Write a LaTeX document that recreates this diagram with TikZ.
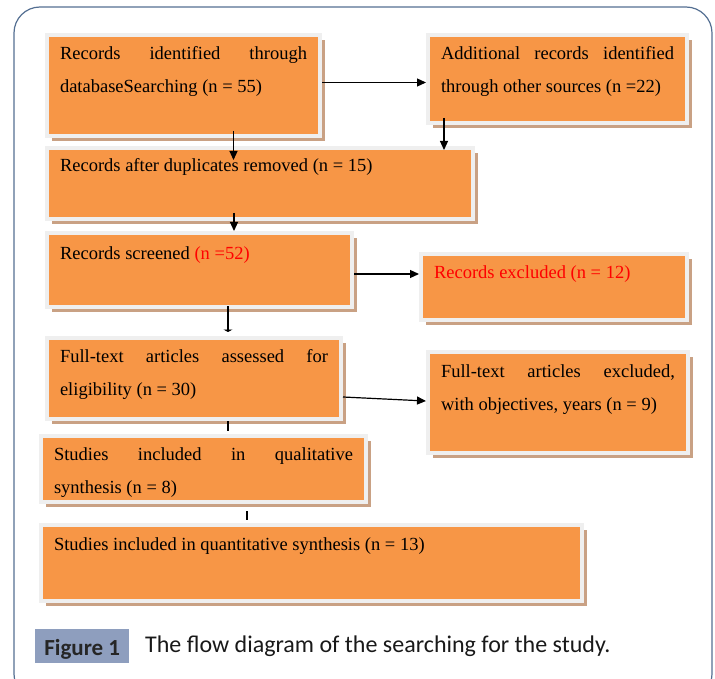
\documentclass[tikz,border=0pt]{standalone}
\usepackage{fontspec}
\setmainfont{Liberation Serif}
\newfontfamily\capfont{Carlito}
\usetikzlibrary{arrows.meta,shadows}
\definecolor{boxorange}{HTML}{F79646}
\definecolor{boxedge}{HTML}{EFEFEF}
\definecolor{boxshadow}{HTML}{C9A184}
\definecolor{frameblue}{HTML}{546F92}
\definecolor{figblue}{HTML}{8E9EBE}
\tolerance=10000
\hyphenpenalty=10000
\tikzset{
  recbox/.style={draw=boxedge, line width=4pt, fill=boxorange, anchor=north west,
    inner xsep=13pt, inner ysep=0pt, align=justify,
    font=\fontsize{18.5}{33}\selectfont,
    drop shadow={shadow xshift=5pt, shadow yshift=-5pt, fill=boxshadow, opacity=1}},
  flow/.style={-{Triangle[length=9pt,width=8pt]}, line width=1.2pt},
  figtag/.style={anchor=north west, fill=figblue, minimum width=94pt, inner xsep=0pt,
    inner ysep=4pt, text height=22pt, text depth=4pt, text=black!85,
    font=\capfont\bfseries\fontsize{23}{23}\selectfont}
}
\begin{document}
\begin{tikzpicture}[x=1pt,y=-1pt]
\useasboundingbox (0,0) rectangle (715,679);
\draw[frameblue, line width=1.2pt, rounded corners=26pt] (14,7) rectangle (712,700);

\node[recbox, text width=247pt, text height=25pt, text depth=76pt] (ident) at (45,33) {Records identified through\linebreak databaseSearching (n = 55)};
\node[recbox, text width=233pt, text height=25pt, text depth=63pt] (other) at (426,33) {Additional records identified\linebreak through other sources (n =22)};
\node[recbox, text width=400pt, text height=24pt, text depth=47pt] (dupl) at (45,146) {Records after duplicates removed (n = 15)};
\node[recbox, text width=279pt, text height=26pt, text depth=48pt] (screen) at (45,231) {Records screened \textcolor{red}{(n =52)}};
\node[recbox, text width=240pt, text height=25pt, text depth=41pt, text=red] (excl) at (419,252) {Records excluded (n = 12)};
\node[recbox, text width=268pt, text height=24pt, text depth=57pt] (full) at (45,336) {Full-text articles assessed for\linebreak eligibility (n = 30)};
\node[recbox, text width=234pt, text height=25pt, text depth=76pt] (fullex) at (426,350) {Full-text articles excluded,\linebreak \mbox{with objectives, years (n = 9)}};
\node[recbox, text width=299pt, text height=24pt, text depth=42pt] (qual) at (39,434) {Studies included in qualitative\linebreak synthesis (n = 8)};
\node[recbox, text width=515pt, text height=25pt, text depth=51pt] (quant) at (39,523) {Studies included in quantitative synthesis (n = 13)};

\draw[flow] ([yshift=3pt]ident.east) -- ([yshift=3pt]ident.east -| other.west);
\draw[flow] ([xshift=50pt,yshift=7pt]ident.south) -- ([xshift=50pt,yshift=-14pt]ident.south |- dupl.north);
\draw[flow] ([xshift=-113.5pt,yshift=7pt]other.south) -- ([xshift=-113.5pt,yshift=-4pt]other.south |- dupl.north);
\draw[flow] ([xshift=-26pt,yshift=8pt]dupl.south) -- ([xshift=-26pt]dupl.south |- screen.north);
\draw[flow] ([yshift=-4pt]screen.east) -- ([yshift=-4pt]screen.east -| excl.west);
\draw[-{Triangle[length=2.5pt,width=9pt]}, line width=1.2pt] ([xshift=28.5pt,yshift=3pt]screen.south) -- ([xshift=28.5pt,yshift=4pt]screen.south |- full.north);
\draw[flow] ([yshift=-18.5pt]full.east) -- ([yshift=1.5pt]fullex.west);
\draw[line width=1.2pt] ([xshift=34pt]full.south) -- ([xshift=34pt,yshift=3pt]full.south |- qual.north);
\draw[line width=1.2pt] ([xshift=43.5pt,yshift=-7pt]qual.south) -- ([xshift=43.5pt,yshift=3pt]qual.south |- quant.north);

% caption
\node[figtag] (fig) at (35,629) {Figure 1};
\node[anchor=base west, inner sep=0pt, text=black!90, font=\capfont\fontsize{24}{28}\selectfont] (figtext) at (145,652) {The flow diagram of the searching for the study.};
\end{tikzpicture}
\end{document}
